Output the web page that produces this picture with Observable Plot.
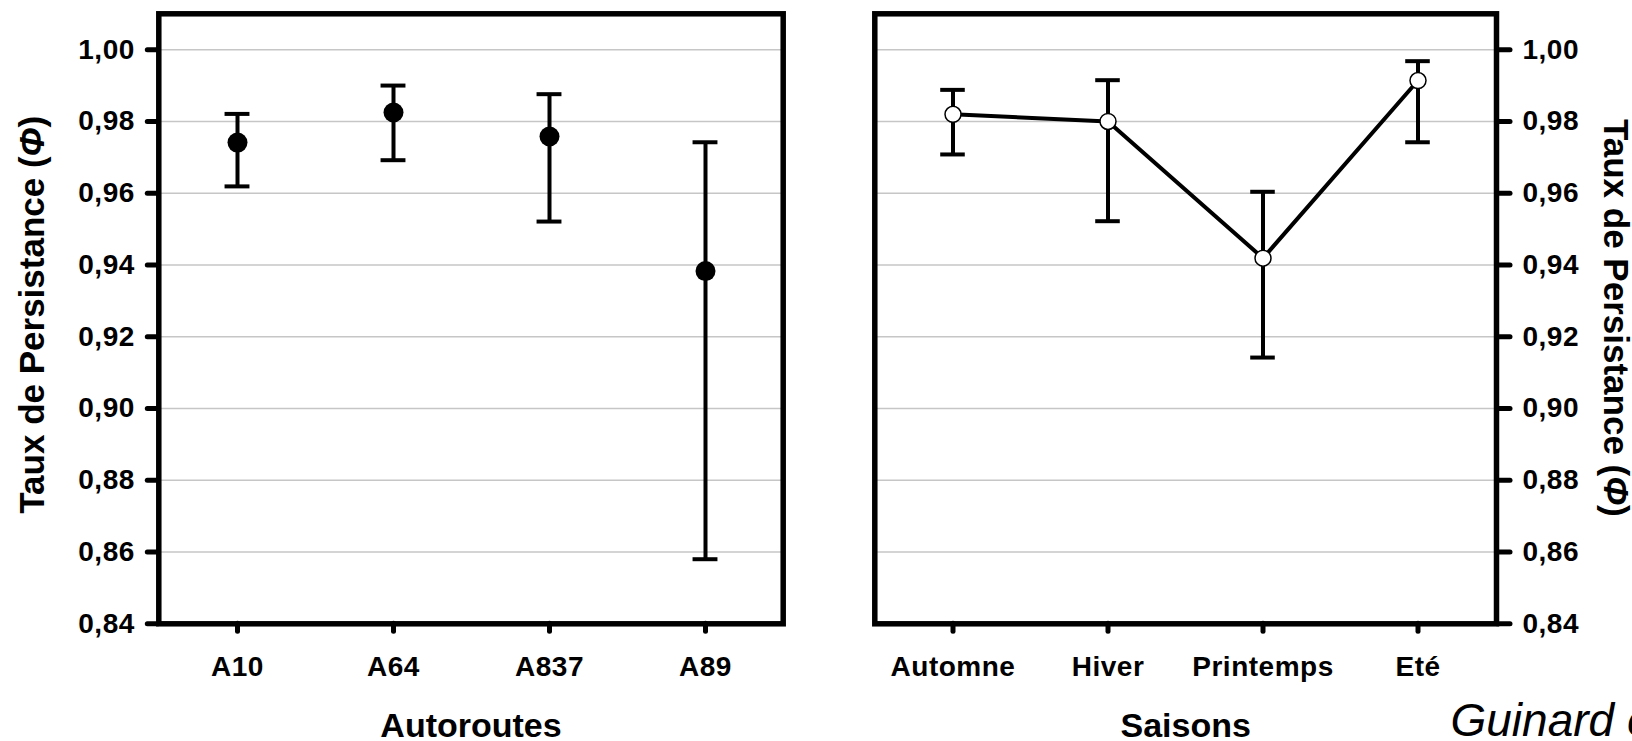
<!DOCTYPE html>
<html>
<head>
<meta charset="utf-8">
<script src="https://cdn.jsdelivr.net/npm/d3@7"></script>
<script src="https://cdn.jsdelivr.net/npm/@observablehq/plot@0.6"></script>
<style>
  html, body { margin: 0; padding: 0; background: #fff; }
  #wrap { position: relative; width: 1632px; height: 741px; overflow: hidden; background: #fff; }
  #left, #right { position: absolute; top: 0; width: 816px; height: 741px; }
  #left { left: 0; }
  #right { left: 816px; }
  #wrap svg { max-width: none !important; }
</style>
</head>
<body>
<div id="wrap"><div id="left"></div><div id="right"></div></div>
<script>
// ---- Data ----
const autoroutes = ["A10", "A64", "A837", "A89"];
const autoroutesPhi = [0.9741, 0.9825, 0.9758, 0.9383];
const autoroutesLow = [0.9619, 0.9692, 0.9521, 0.8580];
const autoroutesHigh = [0.9821, 0.9900, 0.9876, 0.9742];

const saisons = ["Automne", "Hiver", "Printemps", "Eté"];
const saisonsPhi = [0.9820, 0.9800, 0.9419, 0.9914];
const saisonsLow = [0.9708, 0.9522, 0.9142, 0.9742];
const saisonsHigh = [0.9888, 0.9915, 0.9604, 0.9968];

const yTicks = [0.84, 0.86, 0.88, 0.90, 0.92, 0.94, 0.96, 0.98, 1.00];
const yLabel = "Taux de Persistance (Φ)";
const xLabelLeft = "Autoroutes";
const xLabelRight = "Saisons";
const credit = "Guinard et al.";

// ---- Tables built from the arrays ----
const leftData = autoroutes.map((c, i) => ({cat: c, phi: autoroutesPhi[i], low: autoroutesLow[i], high: autoroutesHigh[i]}));
const rightData = saisons.map((c, i) => ({cat: c, phi: saisonsPhi[i], low: saisonsLow[i], high: saisonsHigh[i]}));

const FONT = "'Liberation Sans', Arial, Helvetica, sans-serif";
const yFmt = d => d.toFixed(2).replace(".", ",");

const W = 816, H = 741;
const mTop = 13.3, mBottom = 117.7;
const yDomain = [0.84, 1.01];
const TICK = 11, TICKW = 5;
const FS_TICK = 28, FS_TITLE = 35;
const CAP = 25;

function errorMarks(data, bandwidth) {
  const inset = (bandwidth - CAP) / 2;
  return [
    Plot.ruleX(data, {x: "cat", y1: "low", y2: "high", stroke: "black", strokeWidth: 4}),
    Plot.tickY(data, {x: "cat", y: "high", stroke: "black", strokeWidth: 4, insetLeft: inset, insetRight: inset}),
    Plot.tickY(data, {x: "cat", y: "low", stroke: "black", strokeWidth: 4, insetLeft: inset, insetRight: inset})
  ];
}

const style = {fontFamily: FONT, fontWeight: "bold", color: "black", background: "white"};

const lL = 158.3, lR = 782.7, rL = 874.3, rR = 1496;

const left = Plot.plot({
  width: W, height: H,
  marginLeft: lL, marginRight: W - lR, marginTop: mTop, marginBottom: mBottom,
  style,
  x: {type: "band", domain: autoroutes, padding: 0},
  y: {domain: yDomain},
  marks: [
    Plot.gridY(yTicks, {stroke: "#c6c6c6", strokeOpacity: 1, strokeWidth: 1.5}),
    ...errorMarks(leftData, (lR - lL) / 4),
    Plot.dot(leftData, {x: "cat", y: "phi", r: 10, fill: "black"}),
    Plot.frame({stroke: "black", strokeWidth: 5.5}),
    Plot.axisY(yTicks, {tickSize: TICK, tickPadding: 13, stroke: "black", strokeWidth: TICKW, strokeLinecap: "round", tickFormat: yFmt, fontSize: FS_TICK, label: null}),
    Plot.axisX(autoroutes, {tickSize: 8, tickPadding: 24, stroke: "black", strokeWidth: TICKW, strokeLinecap: "round", fontSize: FS_TICK, label: null}),
    Plot.text([yLabel], {frameAnchor: "left", textAnchor: "middle", lineAnchor: "middle", rotate: -90, dx: -126, dy: -4, fontSize: FS_TITLE, fontWeight: "bold"}),
    Plot.text([xLabelLeft], {frameAnchor: "bottom", textAnchor: "middle", lineAnchor: "middle", dy: 102, fontSize: 34, fontWeight: "bold"})
  ]
});

const right = Plot.plot({
  width: W, height: H,
  marginLeft: rL - W, marginRight: W - (rR - W), marginTop: mTop, marginBottom: mBottom,
  style,
  x: {type: "band", domain: saisons, padding: 0},
  y: {domain: yDomain},
  marks: [
    Plot.gridY(yTicks, {stroke: "#c6c6c6", strokeOpacity: 1, strokeWidth: 1.5}),
    ...errorMarks(rightData, (rR - rL) / 4),
    Plot.line(rightData, {x: "cat", y: "phi", stroke: "black", strokeWidth: 4}),
    Plot.dot(rightData, {x: "cat", y: "phi", r: 8, fill: "white", stroke: "black", strokeWidth: 1.5}),
    Plot.frame({stroke: "black", strokeWidth: 5.5}),
    Plot.axisY(yTicks, {anchor: "right", tickSize: TICK + 2, tickPadding: 13, stroke: "black", strokeWidth: TICKW, strokeLinecap: "round", tickFormat: yFmt, fontSize: FS_TICK, label: null}),
    Plot.axisX(saisons, {tickSize: 8, tickPadding: 24, stroke: "black", strokeWidth: TICKW, strokeLinecap: "round", fontSize: FS_TICK, label: null}),
    Plot.text([yLabel], {frameAnchor: "right", textAnchor: "middle", lineAnchor: "middle", rotate: 90, dx: 119, dy: -1, fontSize: FS_TITLE, fontWeight: "bold"}),
    Plot.text([xLabelRight], {frameAnchor: "bottom", textAnchor: "middle", lineAnchor: "middle", dy: 102, fontSize: 34, fontWeight: "bold"}),
    Plot.text([credit], {frameAnchor: "bottom-right", textAnchor: "start", lineAnchor: "middle", dx: 1450 - rR, dy: 97, fontSize: 46, fontWeight: "normal", fontStyle: "italic"})
  ]
});

document.getElementById("left").appendChild(left);
document.getElementById("right").appendChild(right);

// Slight letter spacing to approximate the wider original typeface, and italic Φ
d3.selectAll("#wrap svg g[aria-label$='tick label'] text").style("letter-spacing", "0.5px");
d3.selectAll("#wrap svg text").each(function() {
  const t = this.textContent;
  if (t === yLabel) {
    const sel = d3.select(this);
    sel.text(null);
    sel.append("tspan").text("Taux de Persistance (");
    sel.append("tspan").attr("font-style", "italic").text("Φ");
    sel.append("tspan").text(")");
  }
});
</script>
</body>
</html>
